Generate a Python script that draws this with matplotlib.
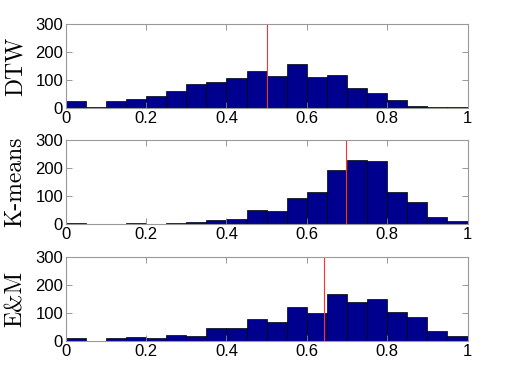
import numpy as np
import matplotlib
matplotlib.use('Agg')
from matplotlib import pyplot as plt

# histogram counts, 20 bins on [0, 1]
dtw_counts = [25, 4, 25, 32, 42, 62, 87, 94, 106, 133,
              113, 156, 111, 117, 70, 55, 30, 8, 2, 2]
kmeans_counts = [3, 1, 1, 2, 1, 2, 6, 15, 19, 49,
                 45, 92, 113, 193, 230, 225, 113, 79, 26, 10]
em_counts = [11, 1, 11, 14, 11, 22, 18, 48, 48, 78,
             67, 121, 100, 169, 140, 150, 103, 85, 37, 18]

labels = ['DTW', 'K-means', 'E&M']
thresholds = [0.5, 0.697, 0.642]
all_counts = [dtw_counts, kmeans_counts, em_counts]

edges = np.linspace(0, 1, 21)
xticks = [0, 0.2, 0.4, 0.6, 0.8, 1]
xticklabels = ['0', '0.2', '0.4', '0.6', '0.8', '1']
yticks = [0, 100, 200, 300]

plt.rcParams['font.family'] = ['Liberation Sans', 'DejaVu Sans']

fig = plt.figure(figsize=(5.06, 3.92), dpi=100)
bottoms = [0.7245, 0.4286, 0.130]
for counts, lab, thr, b in zip(all_counts, labels, thresholds, bottoms):
    ax = fig.add_axes([0.130, b, 0.794, 0.214])
    ax.bar(edges[:-1], counts, width=edges[1] - edges[0], align='edge',
           color='#00008f', edgecolor='black', linewidth=0.5)
    ax.axvline(thr, color='#ff3030', linewidth=0.8)
    ax.set_xlim(0, 1)
    ax.set_ylim(0, 300)
    ax.set_xticks(xticks)
    ax.set_xticklabels(xticklabels)
    ax.set_yticks(yticks)
    ax.tick_params(direction='in', top=True, right=True, length=4,
                   width=0.6, color='#888888', labelsize=12, pad=2)
    for s in ax.spines.values():
        s.set_color('#999999')
        s.set_linewidth(0.8)
    ax.set_ylabel(lab, fontfamily='cmr10', fontsize=17)
    ax.yaxis.set_label_coords(-0.097, 0.5)

plt.savefig('out.png', dpi=100)
plt.close()
